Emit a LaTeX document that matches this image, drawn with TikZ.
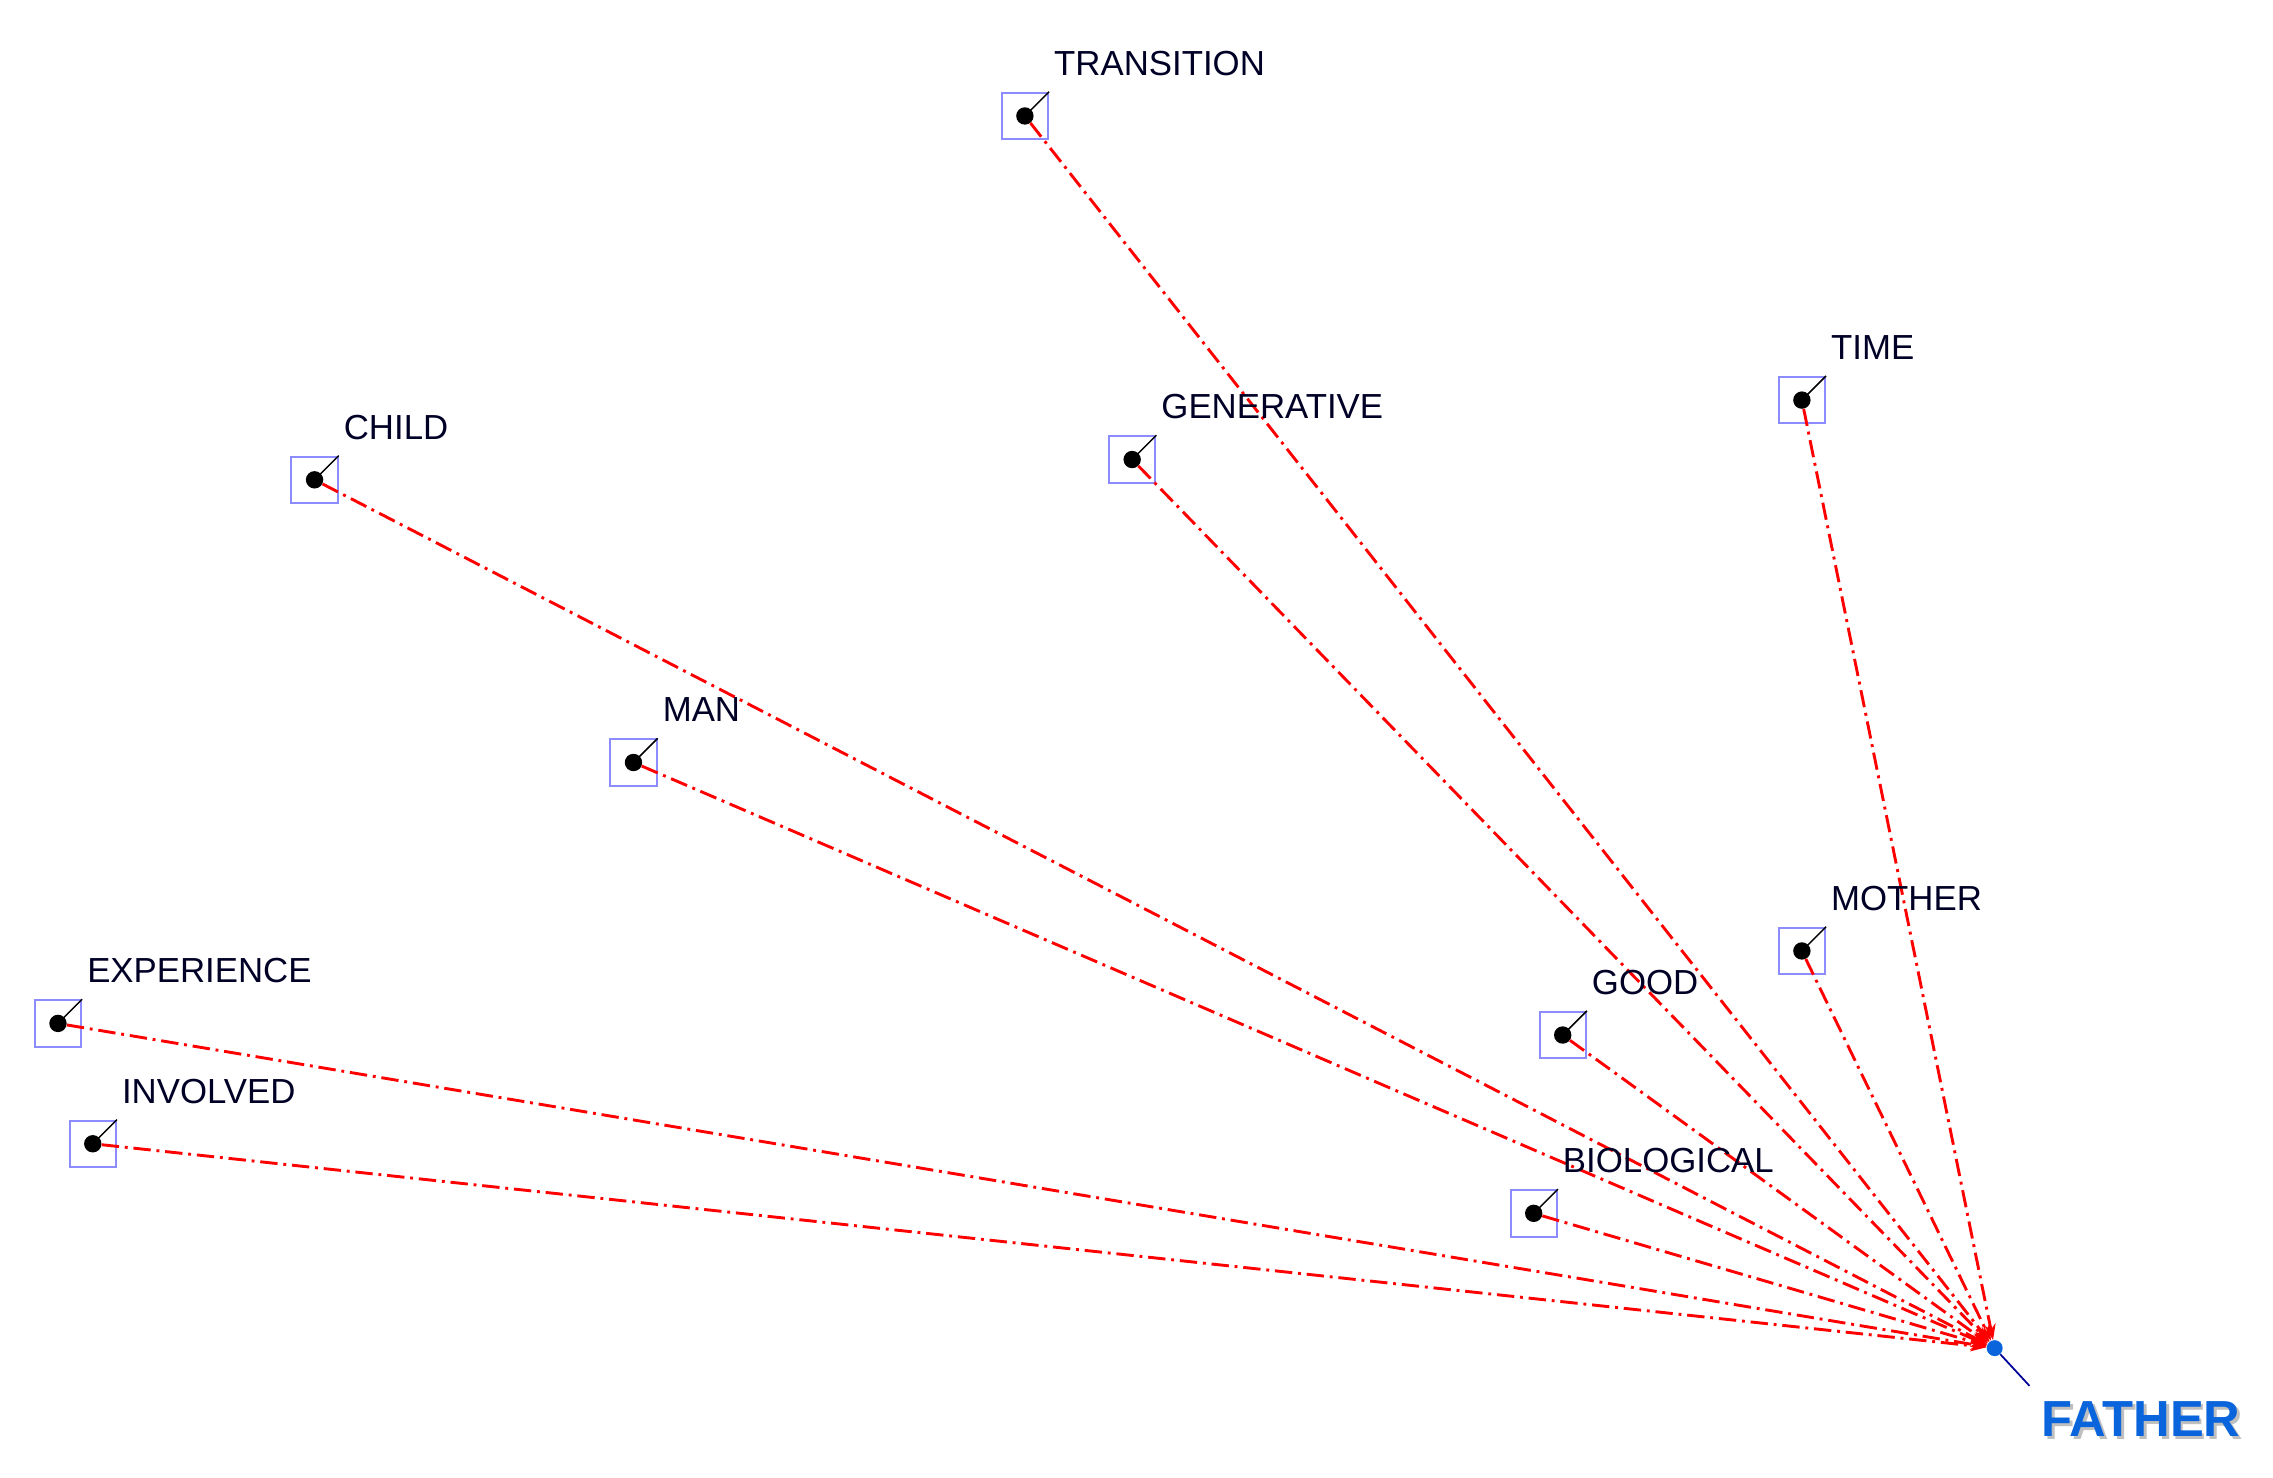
\documentclass[tikz,border=0pt]{standalone}
\usepackage{fontspec}
\setmainfont{Liberation Sans}
\usetikzlibrary{arrows.meta}
\definecolor{fblue}{RGB}{10,100,220}
\begin{document}
\begin{tikzpicture}[x=1pt,y=-1pt,
  lbl/.style={anchor=base west,font=\fontsize{24}{24}\selectfont,inner sep=0,text=black!85!blue},
  box/.style={draw=blue!45!white,line width=1.4pt,minimum size=32pt,inner sep=0},
  dotn/.style={circle,fill=black,minimum size=12pt,inner sep=0},
  link/.style={red,line width=2pt,dash pattern=on 12pt off 4pt on 2pt off 4pt,-{Stealth[length=11pt,width=8pt]}}]
\useasboundingbox (0,0) rectangle (1568,1019);
\node[circle,fill=fblue,minimum size=11pt,inner sep=0] (father) at (1376,930) {};
\coordinate (ft) at (1400,956);
\draw[blue!60!black,line width=1.2pt] (father) -- (ft);
\node[anchor=base west,inner sep=0,text=black!25,font=\bfseries\fontsize{35}{35}\selectfont] at (1410,993) {FATHER};
\node[anchor=base west,inner sep=0,text=fblue,font=\bfseries\fontsize{35}{35}\selectfont] (fl) at (1408,991) {FATHER};
\foreach \n/\x/\y/\t in {tr/707/80/TRANSITION, ti/1243/276/TIME, ch/217/331/CHILD, ge/781/317/GENERATIVE, ma/437/526/MAN, mo/1243/656/MOTHER, go/1078/714/GOOD, ex/40/706/EXPERIENCE, in/64/789/INVOLVED, bi/1058/837/BIOLOGICAL}{
  \node[box] (\n b) at (\x,\y) {};
  \node[dotn] (\n) at (\x,\y) {};
  \draw[black,line width=1pt] (\n.center) -- (\n b.north east);
  \node[lbl] (\n l) at (\x+20,\y-28) {\t};
  \draw[link] (\n) -- (father);
}
\end{tikzpicture}
\end{document}
